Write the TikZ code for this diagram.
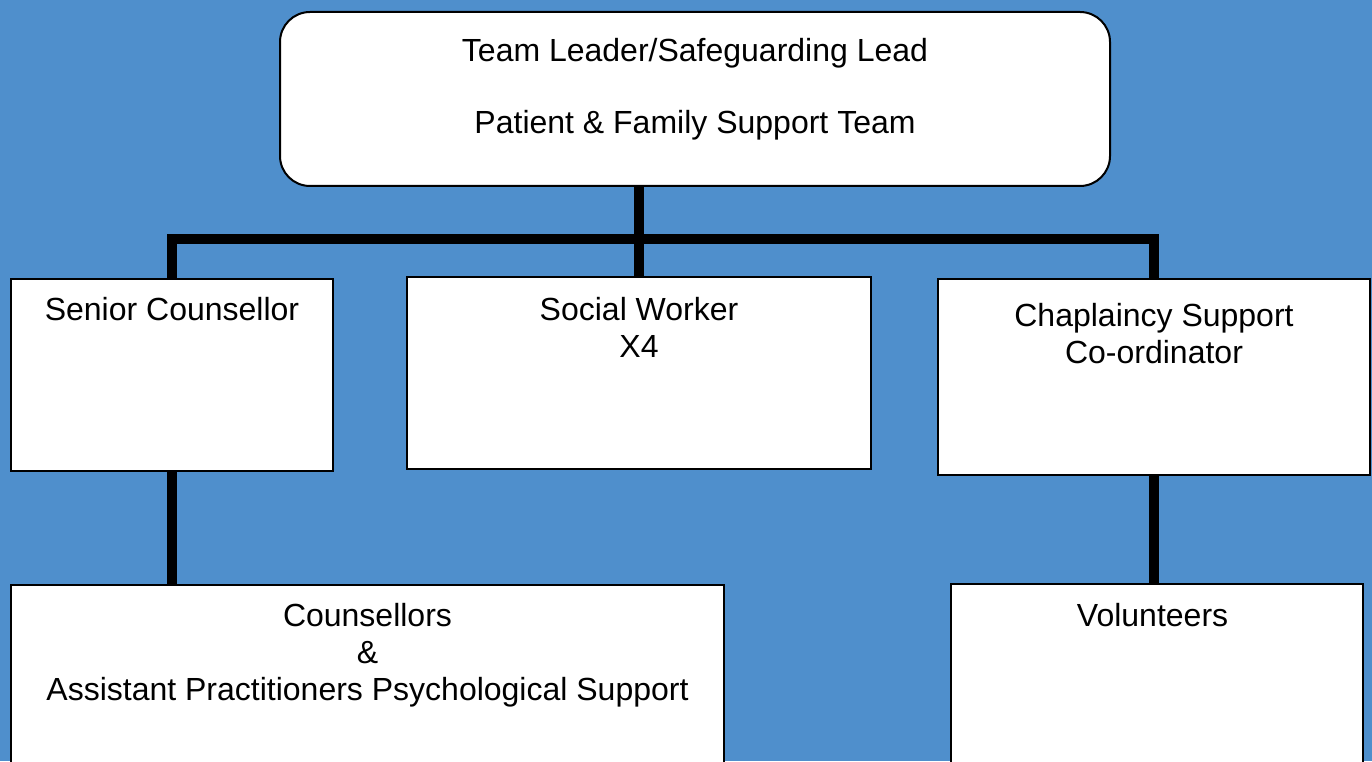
\documentclass[tikz,border=0pt]{standalone}
\usepackage{fontspec}
\setmainfont{Liberation Sans}
\usetikzlibrary{positioning}
\definecolor{pageblue}{RGB}{79,143,204}

\begin{document}
\begin{tikzpicture}
		[
			x=1pt, y=1pt,
			box/.style={draw, line width=2pt, fill=white, inner sep=0pt, outer sep=0pt, anchor=north west},
			lbl/.style={inner sep=0pt, align=center, font=\fontsize{32}{37}\selectfont},
			link/.style={line width=10pt, line join=miter},
		]

		\useasboundingbox (0,0) rectangle (1372,761);
		\clip (0,0) rectangle (1372,761);
		\fill[pageblue] (0,0) rectangle (1372,761);

		% Boxes
		\node[box, rounded corners=30pt, minimum width=830pt, minimum height=174pt] (top) at (280,749) {};
		\foreach \name/\x/\y/\w/\h in
		{
			senior/11/482/322/192,
			social/407/484/464/192,
			chap/938/482/432/196,
			couns/11/176/713/220,
			vol/951/177/412/220
		}
			\node[box, minimum width=\w pt, minimum height=\h pt] (\name) at (\x,\y) {};

		% Links
		\coordinate (hub) at (639,522);
		\draw[link] (senior.north) -- (senior.north |- hub) -- (chap.north |- hub) -- (chap.north);
		\draw[link] (top.south -| social.north) -- (social.north);
		\draw[link] (senior.south) -- (senior.south |- couns.north);
		\draw[link] (chap.south) -- (chap.south |- vol.north);

		% Labels
		\node[lbl, below=26pt of top.north] (top-txt)
			{Team Leader/Safeguarding Lead\\[35pt] Patient \& Family Support Team};
		\foreach \name/\gap/\text in
		{
			senior/18/{Senior Counsellor},
			social/20/{Social Worker\\ X4},
			chap/24/{Chaplaincy Support\\ Co-ordinator},
			couns/18/{Counsellors\\ \&\\ Assistant Practitioners Psychological Support},
			vol/19/{Volunteers}
		}
			\node[lbl, below=\gap pt of \name.north] (\name-txt) {\text};

		\end{tikzpicture}
\end{document}
